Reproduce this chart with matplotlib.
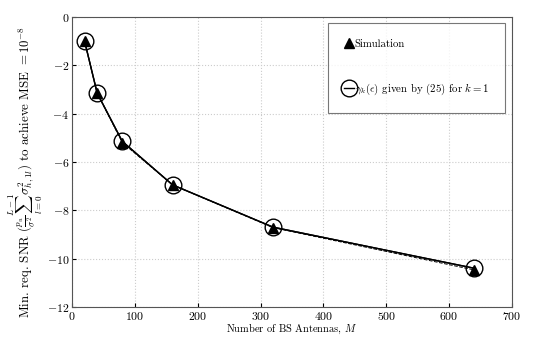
import matplotlib
matplotlib.use("Agg")
import matplotlib.pyplot as plt

M = [20, 40, 80, 160, 320, 640]
analytic = [-1.0, -3.15, -5.15, -6.95, -8.7, -10.4]
simulation = [-1.0, -3.15, -5.2, -6.95, -8.72, -10.47]

plt.rcParams['font.family'] = 'cmr10'
plt.rcParams['mathtext.fontset'] = 'cm'
plt.rcParams['axes.formatter.use_mathtext'] = True

fig = plt.figure(figsize=(5.54, 3.46), dpi=100)
ax = fig.add_axes([0.130, 0.113, 0.794, 0.838])

ax.plot(M, simulation, color='black', linestyle='--', linewidth=0.7)
ax.plot(M, analytic, color='black', linestyle='-', linewidth=1.0)
ax.plot(M, simulation, linestyle='none', marker='^', color='black', markersize=7,
        label='Simulation')
ax.plot(M, analytic, linestyle='-', color='black', linewidth=1.0, marker='o', markersize=12,
        markerfacecolor='none', markeredgecolor='black', markeredgewidth=1.0,
        label=r'$\gamma_k(\epsilon)$ given by (25) for $k=1$')

ax.set_xlim(0, 700)
ax.set_ylim(-12, 0)
ax.set_xticks(range(0, 701, 100))
ax.set_yticks(range(-12, 1, 2))
ax.grid(True, linestyle=':', color='#cccccc', linewidth=0.8)
ax.tick_params(direction='in', labelsize=8.5, length=3, pad=2)
for s in ax.spines.values():
    s.set_color('#555555')

ax.set_xlabel(r'Number of BS Antennas, $M$', fontsize=7.5, labelpad=1)
ax.set_ylabel(r'Min. req. SNR ($\frac{p_u}{\sigma^2}\sum_{l=0}^{L-1}\sigma_{h,1l}^2$) to achieve MSE $= 10^{-8}$',
              fontsize=9.3)
ax.yaxis.set_label_coords(-0.062, 0.465)

leg = ax.legend(loc='upper right', fontsize=7.8, frameon=True, fancybox=False,
                edgecolor='#555555', handlelength=0.9, handletextpad=0.1,
                labelspacing=3.0, borderpad=1.5, borderaxespad=0.6)
leg.get_frame().set_linewidth(0.8)

fig.savefig('out.png', dpi=100)
